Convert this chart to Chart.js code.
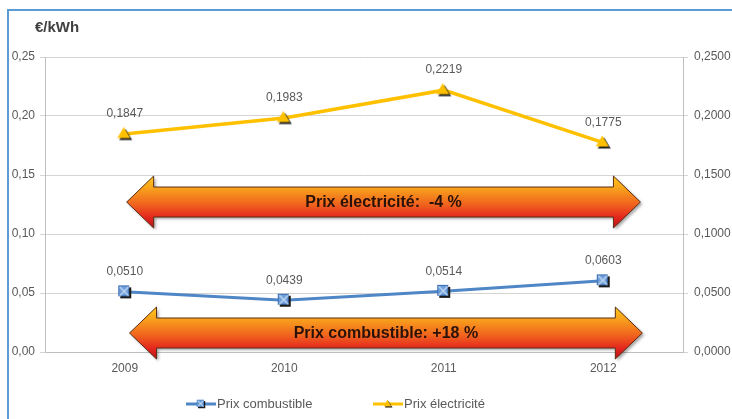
<!DOCTYPE html>
<html lang="fr">
<head>
<meta charset="UTF-8">
<title>Prix combustible / électricité</title>
<script src="https://cdn.jsdelivr.net/npm/chart.js@4.4.0/dist/chart.umd.min.js"></script>
<style>
  html, body { margin: 0; padding: 0; background: #fff; overflow: hidden; }
  #wrap { position: relative; width: 732px; height: 419px; }
</style>
</head>
<body>
<div id="wrap"><canvas id="chart"></canvas></div>
<script>
// data
const years = ['2009', '2010', '2011', '2012'];
const prixCombustible = [0.0510, 0.0439, 0.0514, 0.0603];
const prixElectricite = [0.1847, 0.1983, 0.2219, 0.1775];
const yMin = 0;
const yMax = 0.25;
const yStep = 0.05;
const unitLabel = '€/kWh';
const seriesNames = ['Prix combustible', 'Prix électricité'];
const arrowTexts = ['Prix électricité:  -4 %', 'Prix combustible: +18 %'];

// where the two big arrows sit (category index / axis value)
const arrows = [
    { text: arrowTexts[0], y: 0.1271, from: 0.012, to: 3.233 },
    { text: arrowTexts[1], y: 0.0161, from: 0.03, to: 3.245 }
];

const FONT = '"Liberation Sans", Arial, sans-serif';
const BLUE = '#4F86C6';
const YELLOW = '#FFC000';
const GREY_TXT = '#595959';

function comma(v, d) {
    return v.toFixed(d).replace('.', ',');
}

// marker images with a small dark drop shadow, like the Excel markers
function triangleMarker() {
    const c = document.createElement('canvas');
    c.width = 17; c.height = 17;
    const g = c.getContext('2d');
    const tri = (dx, dy) => {
        g.beginPath();
        g.moveTo(7.5 + dx, 1.5 + dy);
        g.lineTo(14 + dx, 12.5 + dy);
        g.lineTo(1 + dx, 12.5 + dy);
        g.closePath();
        g.fill();
    };
    g.fillStyle = '#222';
    tri(2, 2);
    g.fillStyle = YELLOW;
    tri(0, 0);
    return c;
}

function squareMarker() {
    const c = document.createElement('canvas');
    c.width = 15; c.height = 15;
    const g = c.getContext('2d');
    g.fillStyle = '#1a1a1a';
    g.fillRect(3, 3, 11, 11);
    g.fillStyle = '#6E9FDA';
    g.fillRect(1, 1, 11, 11);
    g.strokeStyle = '#3A6EB0';
    g.lineWidth = 1;
    g.strokeRect(1.5, 1.5, 10, 10);
    g.strokeStyle = '#C9DBF2';
    g.lineWidth = 1.3;
    g.beginPath();
    g.moveTo(2.5, 2.5); g.lineTo(11.5, 11.5);
    g.moveTo(11.5, 2.5); g.lineTo(2.5, 11.5);
    g.stroke();
    return c;
}

const triImg = triangleMarker();
const sqImg = squareMarker();

function drawArrow(ctx, x1, x2, yc, text) {
    const shaftH = 30, headH = 52, headL = 27;
    const top = yc - headH / 2, bot = yc + headH / 2;
    ctx.save();
    ctx.beginPath();
    ctx.moveTo(x1, yc);
    ctx.lineTo(x1 + headL, top);
    ctx.lineTo(x1 + headL, yc - shaftH / 2);
    ctx.lineTo(x2 - headL, yc - shaftH / 2);
    ctx.lineTo(x2 - headL, top);
    ctx.lineTo(x2, yc);
    ctx.lineTo(x2 - headL, bot);
    ctx.lineTo(x2 - headL, yc + shaftH / 2);
    ctx.lineTo(x1 + headL, yc + shaftH / 2);
    ctx.lineTo(x1 + headL, bot);
    ctx.closePath();
    const grad = ctx.createLinearGradient(0, top, 0, bot);
    grad.addColorStop(0, '#FFC81A');
    grad.addColorStop(0.22, '#F8A41C');
    grad.addColorStop(0.55, '#F0621E');
    grad.addColorStop(0.8, '#E4261E');
    grad.addColorStop(1, '#B8121A');
    ctx.shadowColor = 'rgba(0,0,0,0.35)';
    ctx.shadowOffsetX = 2;
    ctx.shadowOffsetY = 2;
    ctx.shadowBlur = 3;
    ctx.fillStyle = grad;
    ctx.fill();
    ctx.shadowColor = 'transparent';
    ctx.strokeStyle = '#5A2C12';
    ctx.lineWidth = 1;
    ctx.stroke();
    ctx.fillStyle = '#2B1208';
    ctx.font = 'bold 16px ' + FONT;
    ctx.textAlign = 'center';
    ctx.textBaseline = 'middle';
    ctx.fillText(text, (x1 + x2) / 2, yc + 1);
    ctx.restore();
}

const decor = {
    id: 'decor',
    beforeDraw(chart) {
        const ctx = chart.ctx;
        ctx.save();
        ctx.strokeStyle = '#5B9BD5';
        ctx.lineWidth = 2;
        ctx.strokeRect(8, 10, 800, 500);
        ctx.restore();
    },
    afterDatasetsDraw(chart) {
        const ctx = chart.ctx;
        const xs = chart.scales.x, ys = chart.scales.y;
        arrows.forEach(a => {
            drawArrow(ctx, xs.getPixelForValue(a.from), xs.getPixelForValue(a.to),
                ys.getPixelForValue(a.y), a.text);
        });
        // value labels above each point
        ctx.save();
        ctx.font = '12px ' + FONT;
        ctx.fillStyle = GREY_TXT;
        ctx.textAlign = 'center';
        ctx.textBaseline = 'middle';
        chart.data.datasets.forEach((ds, i) => {
            chart.getDatasetMeta(i).data.forEach((pt, j) => {
                ctx.fillText(comma(ds.data[j], 4), pt.x, pt.y - 20);
            });
        });
        ctx.restore();
    },
    afterDraw(chart) {
        const ctx = chart.ctx;
        ctx.save();
        // unit title
        ctx.font = 'bold 15px ' + FONT;
        ctx.fillStyle = '#404040';
        ctx.textAlign = 'left';
        ctx.textBaseline = 'middle';
        ctx.fillText(unitLabel, 35, 28);
        // legend
        const items = [
            { x: 186, img: sqImg, color: BLUE, name: seriesNames[0] },
            { x: 373, img: triImg, color: YELLOW, name: seriesNames[1] }
        ];
        const ly = 404;
        items.forEach(it => {
            ctx.strokeStyle = it.color;
            ctx.lineWidth = 3;
            ctx.beginPath();
            ctx.moveTo(it.x, ly);
            ctx.lineTo(it.x + 30, ly);
            ctx.stroke();
            ctx.drawImage(it.img, it.x + 15 - 5, ly - 5, 10, 10);
            ctx.font = '13px ' + FONT;
            ctx.fillStyle = GREY_TXT;
            ctx.fillText(it.name, it.x + 31, ly);
        });
        ctx.restore();
    }
};

new Chart(document.getElementById('chart'), {
    type: 'line',
    data: {
        labels: years,
        datasets: [
            {
                label: seriesNames[0],
                data: prixCombustible,
                borderColor: BLUE,
                borderWidth: 3,
                pointStyle: sqImg,
                yAxisID: 'y'
            },
            {
                label: seriesNames[1],
                data: prixElectricite,
                borderColor: YELLOW,
                borderWidth: 3.5,
                pointStyle: triImg,
                yAxisID: 'y'
            }
        ]
    },
    options: {
        responsive: true,
        maintainAspectRatio: false,
        animation: false,
        layout: { padding: { top: 57, bottom: 37, left: 0, right: 0 } },
        plugins: {
            legend: { display: false },
            tooltip: { enabled: false }
        },
        scales: {
            x: {
                offset: true,
                grid: { display: false, drawTicks: false },
                border: { color: '#BFBFBF' },
                ticks: { color: GREY_TXT, font: { family: FONT, size: 12 }, padding: 9 },
                afterFit(s) { s.height = 30; }
            },
            y: {
                position: 'left',
                min: yMin, max: yMax,
                ticks: {
                    stepSize: yStep, color: GREY_TXT, padding: 5,
                    font: { family: FONT, size: 12 },
                    callback: v => comma(v, 2)
                },
                grid: { color: '#D4D4D4', tickLength: 5 },
                border: { color: '#BFBFBF' },
                afterFit(s) { s.width = 45; }
            },
            y2: {
                position: 'right',
                min: yMin, max: yMax,
                ticks: {
                    stepSize: yStep, color: GREY_TXT, padding: 6,
                    font: { family: FONT, size: 12 },
                    callback: v => comma(v, 4)
                },
                grid: { drawOnChartArea: false, color: '#D4D4D4', tickLength: 5 },
                border: { color: '#BFBFBF' },
                afterFit(s) { s.width = 49; }
            }
        }
    },
    plugins: [decor]
});
</script>
</body>
</html>
